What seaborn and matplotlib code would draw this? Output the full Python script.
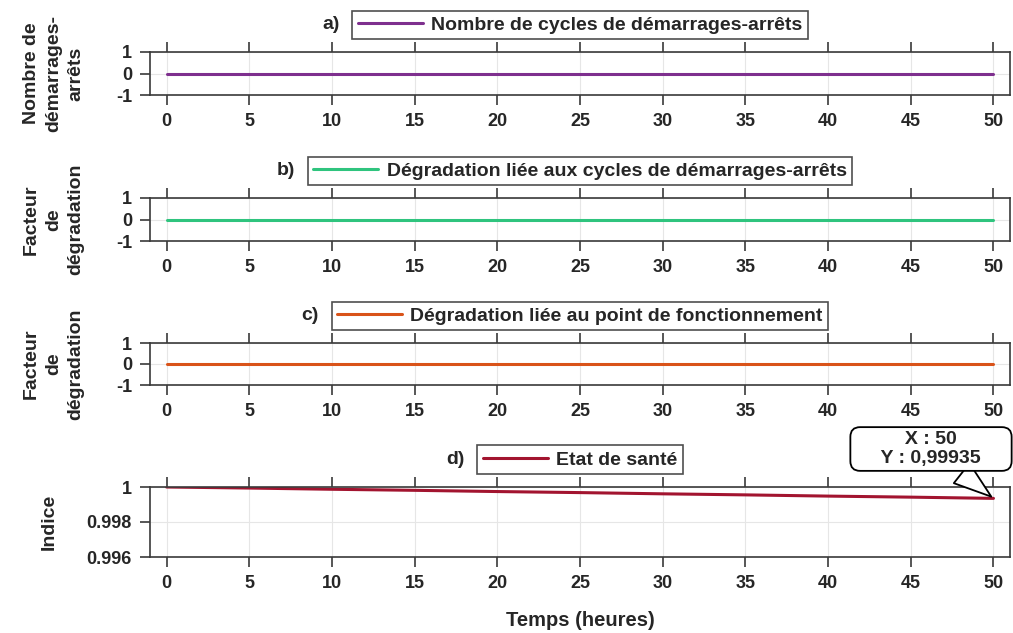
import numpy as np
import pandas as pd
import matplotlib
matplotlib.use("Agg")
import matplotlib.pyplot as plt
import seaborn as sns

sns.set_theme(style="white")
plt.rcParams['font.family'] = ['Liberation Sans', 'DejaVu Sans']
plt.rcParams['font.weight'] = 'bold'
plt.rcParams['axes.labelweight'] = 'bold'
plt.rcParams['axes.unicode_minus'] = False

# data
temps = [0, 5, 10, 15, 20, 25, 30, 35, 40, 45, 50]
cycles = [0, 0, 0, 0, 0, 0, 0, 0, 0, 0, 0]
degr_cycles = [0, 0, 0, 0, 0, 0, 0, 0, 0, 0, 0]
degr_point = [0, 0, 0, 0, 0, 0, 0, 0, 0, 0, 0]
sante = [1.0, 0.99994, 0.99987, 0.99981, 0.99974, 0.99968,
         0.99961, 0.99955, 0.99948, 0.99942, 0.99935]

letters = ["a)", "b)", "c)", "d)"]
noms = ["Nombre de cycles de démarrages-arrêts",
        "Dégradation liée aux cycles de démarrages-arrêts",
        "Dégradation liée au point de fonctionnement",
        "Etat de santé"]
ylabels = ["Nombre de\ndémarrages-\narrêts", "Facteur\nde\ndégradation",
           "Facteur\nde\ndégradation", "Indice"]
couleurs = ["#7E2F8E", "#2FC47E", "#D95319", "#A2142F"]
series = [cycles, degr_cycles, degr_point, sante]

W, H = 1013, 633
fig = plt.figure(figsize=(W / 100, H / 100), dpi=100)

# panel boxes in pixels (top, bottom)
boxes = [(52, 95), (198, 241), (343, 385), (487, 557)]
left, right = 150, 1010
label_x = [84, 84, 84, 58]

axes = []
for i, (top, bot) in enumerate(boxes):
    h = bot - top
    ax = fig.add_axes([left / W, 1 - bot / H, (right - left) / W, h / H])
    df = pd.DataFrame({"t": temps, "v": series[i]})
    sns.lineplot(data=df, x="t", y="v", ax=ax, color=couleurs[i],
                 linewidth=2.2, label=noms[i])
    ax.set_xlim(-1, 51)
    ax.set_xticks(range(0, 51, 5))
    if i < 3:
        ax.set_ylim(-1, 1)
        ax.set_yticks([-1, 0, 1])
    else:
        ax.set_ylim(0.996, 1.0)
        ax.set_yticks([0.996, 0.998, 1.0])
        ax.set_yticklabels(["0.996", "0.998", "1"])
    ax.set_xlabel("")
    ax.set_ylabel(ylabels[i], fontsize=14, linespacing=1.4)
    ax.yaxis.set_label_coords((label_x[i] - left) / (right - left), 0.5)
    ax.grid(True, color="#e6e6e6", linewidth=0.8)
    ax.tick_params(axis="both", direction="out", length=7, width=1.2,
                   colors="#3a3a3a", labelcolor="#262626", labelsize=13,
                   top=True, bottom=True, left=True, right=False, pad=6)
    for s in ax.spines.values():
        s.set_color("#3a3a3a")
        s.set_linewidth(1.2)
    for lab in ax.get_xticklabels() + ax.get_yticklabels():
        lab.set_fontweight("bold")
    leg = ax.legend(loc="lower center", bbox_to_anchor=(0.5, 1 + 13 / h),
                    frameon=True, fancybox=False, fontsize=14,
                    handlelength=3.35, borderpad=0.28, handletextpad=0.42,
                    borderaxespad=0)
    leg.get_frame().set_edgecolor("#222222")
    leg.get_frame().set_linewidth(1.2)
    for t in leg.get_texts():
        t.set_fontweight("bold")
    axes.append(ax)

fig.canvas.draw()
r = fig.canvas.get_renderer()
for i, ax in enumerate(axes):
    bb = ax.get_legend().get_window_extent(r)
    fig.text((bb.x0 - 13) / W, (bb.y0 + bb.y1) / 2 / H, letters[i],
             ha="right", va="center", fontsize=14, fontweight="bold")

# datatip on the last point
ax = axes[3]
ax.annotate("     X : 50     \n     Y : 0,99935     ", xy=(temps[-1], sante[-1]),
            xytext=(931, H - 449), textcoords="figure pixels",
            ha="center", va="center", fontsize=14, fontweight="bold",
            linespacing=1.15,
            bbox=dict(boxstyle="round,pad=0.2,rounding_size=0.5",
                      fc="white", ec="black", lw=1.3),
            arrowprops=dict(arrowstyle="wedge,tail_width=1.3,shrink_factor=0.5",
                            fc="white", ec="black", lw=1.3))

fig.text(580 / W, 1 - 620 / H, "Temps (heures)", ha="center", va="center",
         fontsize=14.5, fontweight="bold", color="#262626")

fig.savefig("out.png", dpi=100)
